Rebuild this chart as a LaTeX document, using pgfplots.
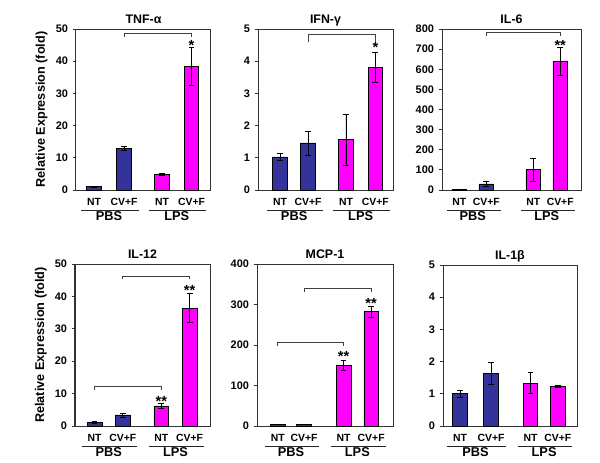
\documentclass[border=0pt]{standalone}
\usepackage{fontspec}
\setmainfont{Liberation Sans}
\usepackage{pgfplots}
\pgfplotsset{compat=1.18}
\definecolor{barblue}{RGB}{51,51,153}
\definecolor{barmag}{RGB}{255,0,255}
\newcommand\tickfont{\fontsize{8.2}{9.6}\selectfont\bfseries}
\newcommand\xfont{\fontsize{7.8}{9.4}\selectfont\bfseries}
\newcommand\titlefont{\fontsize{9.3}{11}\selectfont\bfseries}
\newcommand\ylabfont{\fontsize{9.5}{11}\selectfont\bfseries}
\newcommand\groupfont{\fontsize{9.6}{11}\selectfont\bfseries}
\newcommand\starfont{\fontsize{11}{12}\selectfont\bfseries}
% group lines and labels: #1,#2 PBS bar positions, #3 midpoint; #4,#5 LPS, #6 midpoint
\newcommand\groups[6]{%
  \draw[line width=1pt, black!85] ([xshift=-9.5pt,yshift=-15.5pt]axis cs:#1,0) -- ([xshift=11pt,yshift=-15.5pt]axis cs:#2,0);
  \draw[line width=1pt, black!85] ([xshift=-9.5pt,yshift=-15.5pt]axis cs:#4,0) -- ([xshift=11pt,yshift=-15.5pt]axis cs:#5,0);
  \node[font=\groupfont, anchor=base, inner sep=0pt] at ([yshift=-23pt]axis cs:#3,0) {PBS};
  \node[font=\groupfont, anchor=base, inner sep=0pt] at ([yshift=-23pt]axis cs:#6,0) {LPS};
}
% bracket: from x #1 to x #2, at height #3, ends down to #4
\newcommand\bracket[4]{%
  \draw[line width=0.7pt, black!75] (axis cs:#1,#4) -- (axis cs:#1,#3) -- (axis cs:#2,#3) -- (axis cs:#2,#4);
}
\newcommand\stars[3]{%
  \node[font=\starfont, anchor=base, inner sep=0pt] at (axis cs:#1,#2) {#3};
}
\newcommand\ylab{%
  \node[rotate=90, anchor=base, font=\ylabfont, inner sep=0pt] at ([xshift=-23.25pt]rel axis cs:0,0.5) {Relative Expression (fold)};
}
\pgfplotsset{
  every axis title/.style={at={(0.5,1)}, anchor=base, yshift=4.3pt, inner sep=0pt, font=\titlefont},
  panel/.style={
    scale only axis, anchor=south west, clip=false,
    ybar, ymin=0,
    axis line style={draw=black!80, line width=0.75pt},
    tick align=outside, ytick pos=left, xtick pos=bottom,
    major tick length=2.5pt,
    tick style={black!80, line width=0.6pt},
    xtick style={draw=none},
    xticklabels={NT,CV+F,NT,CV+F},
    xticklabel style={font=\xfont, anchor=base, yshift=-8.75pt, inner sep=0pt},
    yticklabel style={font=\tickfont},
    /pgf/number format/assume math mode=true,
  },
  errs/.style={error bars/.cd, y dir=both, y explicit,
    error bar style={black, line width=0.6pt},
    error mark options={rotate=90, mark size=2.2pt, black, line width=0.6pt}},
  bluebar/.style={fill=barblue, draw=black, line width=0.5pt, bar width=11pt, bar shift=0pt, errs},
  magbar/.style={fill=barmag, draw=black, line width=0.5pt, bar width=11pt, bar shift=0pt, errs},
}
\begin{document}
\begin{tikzpicture}
\useasboundingbox (0,0) rectangle (450pt,346.5pt);
% ---------- TNF-alpha
\begin{axis}[panel, at={(57pt,204pt)}, width=101.25pt, height=120.75pt,
  xmin=-0.6, xmax=3.9, xtick={0,1,2.27,3.25},
  ymax=50, ytick={0,10,...,50}, title={TNF-α}]
\addplot[bluebar] coordinates {(0,1.0) +- (0,0.2) (1,12.9) +- (0,0.5)};
\addplot[magbar] coordinates {(2.27,4.8) +- (0,0.25) (3.25,38.5) +- (0,5.9)};
\bracket{1}{3.25}{48.7}{47.6}
\stars{3.25}{43.4}{*}
\groups{0}{1}{0.5}{2.27}{3.25}{2.76}
\ylab
\end{axis}
% ---------- IFN-gamma
\begin{axis}[panel, at={(193.5pt,204pt)}, width=101.25pt, height=120.75pt,
  xmin=-0.79, xmax=4.03, xtick={0,1,2.35,3.4},
  ymax=5, ytick={0,1,...,5}, title={IFN-γ}]
\addplot[bluebar] coordinates {(0,1.03) +- (0,0.12) (1,1.46) +- (0,0.37)};
\addplot[magbar] coordinates {(2.35,1.56) +- (0,0.8) (3.4,3.8) +- (0,0.47)};
\bracket{1}{3.4}{4.84}{4.6}
\stars{3.4}{4.26}{*}
\groups{0}{1}{0.5}{2.35}{3.4}{2.875}
\end{axis}
% ---------- IL-6
\begin{axis}[panel, at={(331.5pt,204pt)}, width=104.25pt, height=120.75pt,
  xmin=-0.64, xmax=4.51, xtick={0,1,2.74,3.74},
  ymax=800, ytick={0,100,...,800}, title={IL-6}]
\addplot[bluebar] coordinates {(0,1) +- (0,0) (1,30) +- (0,12)};
\addplot[magbar] coordinates {(2.74,101) +- (0,58) (3.74,640) +- (0,70)};
\bracket{1}{3.74}{783}{765}
\stars{3.74}{692}{**}
\groups{0}{1}{0.5}{2.74}{3.74}{3.24}
\end{axis}
% ---------- IL-12
\begin{axis}[panel, at={(56.25pt,27pt)}, width=101.25pt, height=121.5pt,
  xmin=-0.69, xmax=4.08, xtick={0,1,2.36,3.36},
  ymax=50, ytick={0,10,...,50}, title={IL-12}]
\addplot[bluebar] coordinates {(0,1.0) +- (0,0.3) (1,3.4) +- (0,0.6)};
\addplot[magbar] coordinates {(2.36,6.2) +- (0,0.7) (3.36,36.4) +- (0,4.5)};
\bracket{1}{3.36}{46.3}{45.3}
\bracket{0}{2.36}{12.3}{11.2}
\stars{3.36}{40.2}{**}
\stars{2.36}{5.9}{**}
\groups{0}{1}{0.5}{2.36}{3.36}{2.86}
\ylab
\end{axis}
% ---------- MCP-1
\begin{axis}[panel, at={(192.75pt,27pt)}, width=102pt, height=121.5pt,
  xmin=-0.79, xmax=4.38, xtick={0,1,2.5,3.55},
  ymax=400, ytick={0,100,...,400}, title={MCP-1}]
\addplot[bluebar] coordinates {(0,3) +- (0,0) (1,4) +- (0,0)};
\addplot[magbar] coordinates {(2.5,150) +- (0,12) (3.55,282) +- (0,14)};
\bracket{1}{3.55}{339}{330}
\bracket{0}{2.5}{207}{198}
\stars{3.55}{289}{**}
\stars{2.5}{159}{**}
\groups{0}{1}{0.5}{2.5}{3.55}{3.025}
\end{axis}
% ---------- IL-1beta
\begin{axis}[panel, at={(332.25pt,27pt)}, width=100.5pt, height=120.75pt,
  xmin=-0.55, xmax=3.77, xtick={0,1,2.27,3.15},
  ymax=5, ytick={0,1,...,5}, title={IL-1β}]
\addplot[bluebar] coordinates {(0,1.0) +- (0,0.12) (1,1.64) +- (0,0.35)};
\addplot[magbar] coordinates {(2.27,1.33) +- (0,0.33) (3.15,1.23) +- (0,0.02)};
\groups{0}{1}{0.5}{2.27}{3.15}{2.71}
\end{axis}
\end{tikzpicture}
\end{document}
